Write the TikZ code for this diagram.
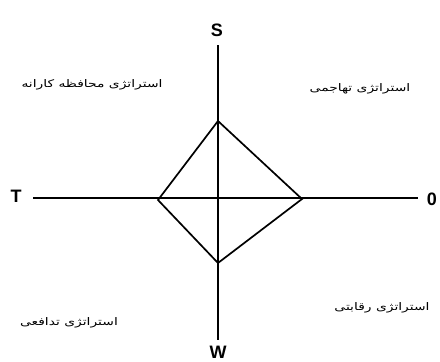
\documentclass[tikz,border=0pt]{standalone}
\usepackage{fontspec}
\setmainfont{Liberation Sans}
\newfontfamily\arabicfont[Script=Arabic]{DejaVu Sans}
\TeXXeTstate=1
\newcommand{\strattext}[1]{\scalebox{1.32}[1]{\arabicfont\beginR #1\endR}}
\begin{document}
\begin{tikzpicture}[x=1pt,y=-1pt,
  axis/.style={line width=1.7pt},
  dia/.style={line width=1.7pt, line join=miter},
  axlabel/.style={font=\fontsize{18}{20}\selectfont\bfseries, inner sep=0pt},
  strat/.style={font=\fontsize{10.5}{12}\selectfont, inner sep=0pt}]
\useasboundingbox (0,0) rectangle (440,362);
% axes ends
\coordinate (vt) at (218,45);
\coordinate (vb) at (218,340);
\coordinate (hl) at (33,198);
\coordinate (hr) at (418,198);
\draw[axis] (vt) -- (vb);
\draw[axis] (hl) -- (hr);
% diamond
\coordinate (dt) at (218,121);
\coordinate (dr) at (302,199);
\coordinate (db) at (218,263);
\coordinate (dl) at (158,200);
\draw[dia] (dt) -- (dr) -- (db) -- (dl) -- cycle;
% axis labels
\node[axlabel] (S) at (217,30) {S};
\node[axlabel] (T) at (16,196) {T};
\node[axlabel] (O) at (432,199) {0};
\node[axlabel] (W) at (218,352) {W};
% strategies
\node[strat] (tl) at (92,85) {\strattext{استراتژی محافظه کارانه}};
\node[strat] (tr) at (360,89) {\strattext{استراتژی تهاجمی}};
\node[strat] (bl) at (69,323) {\strattext{استراتژی تدافعی}};
\node[strat] (br) at (382,308) {\strattext{استراتژی رقابتی}};
\end{tikzpicture}
\end{document}
